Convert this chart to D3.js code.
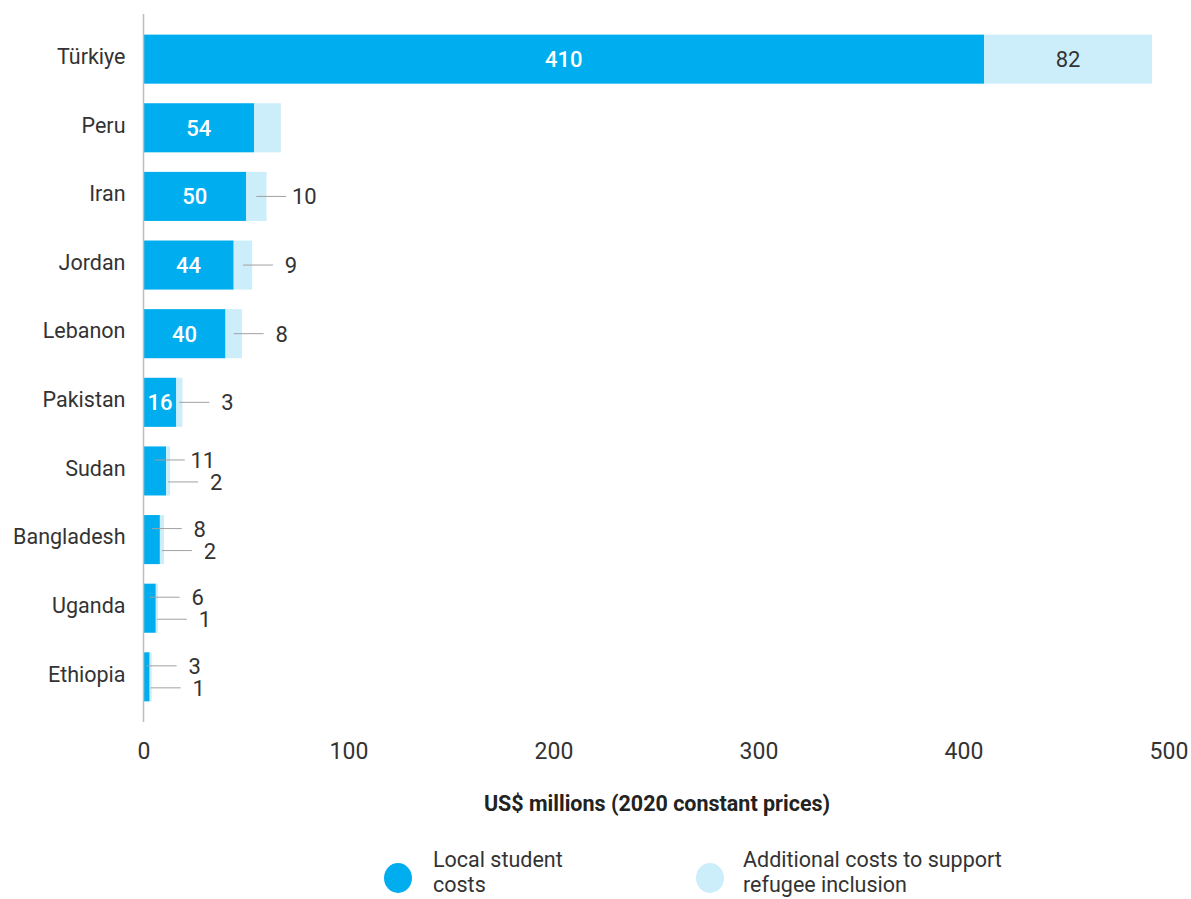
<!DOCTYPE html>
<html>
<head>
<meta charset="utf-8">
<script src="https://cdn.jsdelivr.net/npm/d3@7"></script>
<style>
  html, body { margin: 0; padding: 0; background: #fff; }
  svg { display: block; font-family: Roboto, "Noto Sans", sans-serif; }
</style>
</head>
<body>
<svg id="chart" width="1191" height="899"></svg>
<script>
// Education costs of refugee inclusion by host country
const countries = ["Türkiye", "Peru", "Iran", "Jordan", "Lebanon", "Pakistan", "Sudan", "Bangladesh", "Uganda", "Ethiopia"];
const localCosts = [410, 54, 50, 44, 40, 16, 11, 8, 6, 3];
const additionalCosts = [82, 13, 10, 9, 8, 3, 2, 2, 1, 1];
const unlabelledAdditional = ["Peru"];
const xTicks = [0, 100, 200, 300, 400, 500];
const axisTitle = "US$ millions (2020 constant prices)";

const colors = { local: "#00AEEF", additional: "#CCEEFA" };
const textColor = "#333";
const lineColor = "#a0a0a0";

const svg = d3.select("#chart");

const x = d3.scaleLinear().domain([0, 510]).range([143.5, 1189]);
const y = d3.scaleBand().domain(countries).range([25, 711]).paddingInner(0.285).paddingOuter(0.14);

const rows = countries.map((c, i) => ({ country: c, local: localCosts[i], add: additionalCosts[i] }));

// bars
const g = svg.append("g");
g.selectAll("rect.local").data(rows).join("rect")
  .attr("class", "local")
  .attr("x", x(0)).attr("y", d => y(d.country))
  .attr("width", d => x(d.local) - x(0)).attr("height", y.bandwidth())
  .attr("fill", colors.local);
g.selectAll("rect.add").data(rows).join("rect")
  .attr("class", "add")
  .attr("x", d => x(d.local)).attr("y", d => y(d.country))
  .attr("width", d => x(d.local + d.add) - x(d.local)).attr("height", y.bandwidth())
  .attr("fill", colors.additional);

// vertical baseline
svg.append("line")
  .attr("x1", x(0)).attr("x2", x(0)).attr("y1", 14).attr("y2", 722)
  .attr("stroke", "#bdbdbd").attr("stroke-width", 1.5);

// value labels: inside the segment when it is wide enough, otherwise on a leader line
const fs = 22;
const lead = 30, gapToText = 18;
rows.forEach(d => {
  const cy = y(d.country) + y.bandwidth() / 2;
  const localW = x(d.local) - x(0);
  const addW = x(d.local + d.add) - x(d.local);
  const localInside = localW >= 30;
  const addInside = addW >= 40;
  const showAdd = !unlabelledAdditional.includes(d.country);
  const offset = localInside ? 0 : 11;

  if (localInside) {
    g.append("text").attr("x", (x(0) + x(d.local)) / 2).attr("y", cy)
      .attr("dy", "0.36em").attr("text-anchor", "middle")
      .attr("font-size", fs).attr("font-weight", 500).attr("fill", "#fff")
      .text(d.local);
  } else {
    const sx = (x(0) + x(d.local)) / 2;
    const ly = cy - offset;
    g.append("line").attr("x1", sx).attr("x2", sx + lead).attr("y1", ly).attr("y2", ly)
      .attr("stroke", lineColor).attr("stroke-width", 1);
    g.append("text").attr("x", sx + lead + gapToText).attr("y", ly)
      .attr("dy", "0.36em").attr("text-anchor", "middle")
      .attr("font-size", fs).attr("fill", textColor).text(d.local);
  }

  if (!showAdd) return;
  if (addInside) {
    g.append("text").attr("x", (x(d.local) + x(d.local + d.add)) / 2).attr("y", cy)
      .attr("dy", "0.36em").attr("text-anchor", "middle")
      .attr("font-size", fs).attr("fill", textColor).text(d.add);
  } else {
    const sx = (x(d.local) + x(d.local + d.add)) / 2;
    const ly = cy + offset;
    g.append("line").attr("x1", sx).attr("x2", sx + lead).attr("y1", ly).attr("y2", ly)
      .attr("stroke", lineColor).attr("stroke-width", 1);
    g.append("text").attr("x", sx + lead + gapToText).attr("y", ly)
      .attr("dy", "0.36em").attr("text-anchor", "middle")
      .attr("font-size", fs).attr("fill", textColor).text(d.add);
  }
});

// category axis
const yAxis = svg.append("g").attr("transform", `translate(${x(0)},0)`)
  .call(d3.axisLeft(y).tickSize(0).tickPadding(18));
yAxis.select(".domain").remove();
yAxis.selectAll("text").attr("font-size", 21.5).attr("fill", textColor)
  .attr("font-family", "Roboto, sans-serif").attr("dy", "0.22em");

// value axis
const xAxis = svg.append("g").attr("transform", "translate(0,751)")
  .call(d3.axisBottom(x).tickValues(xTicks).tickSize(0).tickPadding(0));
xAxis.select(".domain").remove();
xAxis.selectAll("text").attr("font-size", 23).attr("fill", textColor)
  .attr("font-family", "Roboto, sans-serif").attr("y", 0).attr("dy", "0.36em");

svg.append("text").attr("x", 657).attr("y", 811).attr("text-anchor", "middle")
  .attr("font-size", 21.5).attr("font-weight", 700).attr("fill", "#222")
  .text(axisTitle);

// legend
const legendItems = [
  { color: colors.local, lines: ["Local student", "costs"], cx: 398, tx: 433 },
  { color: colors.additional, lines: ["Additional costs to support", "refugee inclusion"], cx: 710, tx: 743 }
];
const legend = svg.append("g");
legendItems.forEach(item => {
  legend.append("ellipse").attr("cx", item.cx).attr("cy", 878).attr("rx", 14).attr("ry", 15)
    .attr("fill", item.color);
  const t = legend.append("text").attr("x", item.tx).attr("y", 867)
    .attr("font-size", 21.5).attr("fill", textColor);
  item.lines.forEach((ln, i) => {
    t.append("tspan").attr("x", item.tx).attr("dy", i === 0 ? 0 : 25).text(ln);
  });
});
</script>
</body>
</html>
